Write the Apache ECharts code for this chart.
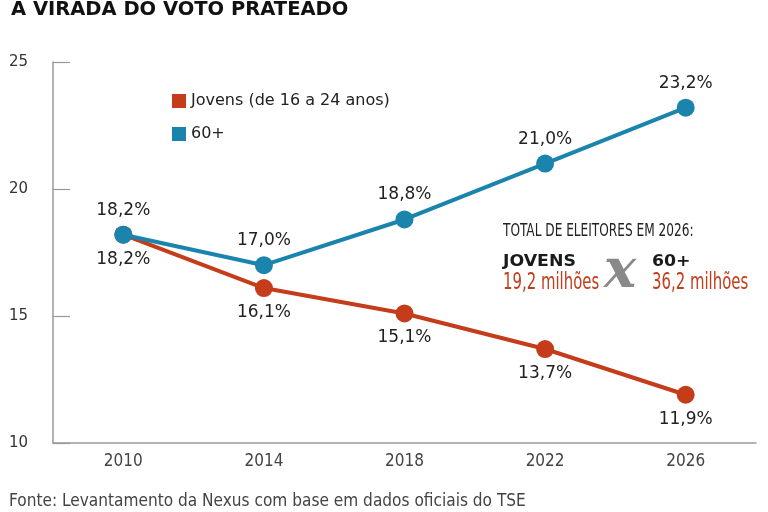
<!DOCTYPE html>
<html>
<head>
<meta charset="utf-8">
<script src="https://cdn.jsdelivr.net/npm/echarts@6/dist/echarts.min.js"></script>
<style>
  html, body { margin: 0; padding: 0; background: #fff; }
  #container { width: 768px; height: 512px; }
</style>
</head>
<body>
<div id="container"></div>
<script>
var years = ['2010', '2014', '2018', '2022', '2026'];
var jovens = [18.2, 16.1, 15.1, 13.7, 11.9];
var sessenta = [18.2, 17.0, 18.8, 21.0, 23.2];
var yTicks = [10, 15, 20, 25];

var RED = '#C43C1A';
var BLUE = '#1B84AD';
var narrow = '"Liberation Sans Narrow", "DejaVu Sans Condensed", sans-serif';

var dom = document.getElementById('container');
var myChart = echarts.init(dom);

function pct(p) {
    return p.value.toFixed(1).replace('.', ',') + '%';
}

// squeezed text block for the annotation (no narrow font installed)
function txt(x, y, sx, text, font, fill) {
    return {
        type: 'text', x: x, y: y, scaleX: sx,
        style: { text: text, font: font, fill: fill, verticalAlign: 'top' }
    };
}

var option = {
    animation: false,
    backgroundColor: '#fff',
    title: {
        text: 'A VIRADA DO VOTO PRATEADO',
        left: 6,
        top: -5,
        textStyle: {
            fontFamily: 'DejaVu Sans',
            fontWeight: 'bold',
            fontSize: 19.5,
            color: '#111'
        }
    },
    legend: {
        orient: 'vertical',
        left: 167,
        top: 88,
        itemWidth: 14,
        itemHeight: 14,
        itemGap: 17,
        icon: 'rect',
        textStyle: { fontFamily: 'DejaVu Sans', fontSize: 16, color: '#222' },
        data: ['Jovens (de 16 a 24 anos)', '60+']
    },
    grid: { left: 53, right: 12, top: 62, bottom: 69 },
    xAxis: {
        type: 'category',
        data: years,
        boundaryGap: true,
        axisLine: { lineStyle: { color: '#999', width: 1.5 } },
        axisTick: { inside: true, length: 12, lineStyle: { color: '#999', width: 1.2 } },
        axisLabel: { margin: 10, fontFamily: narrow, fontSize: 17, color: '#444' }
    },
    yAxis: {
        type: 'value',
        min: yTicks[0],
        max: yTicks[yTicks.length - 1],
        interval: 5,
        splitLine: { show: false },
        axisLine: { show: true, lineStyle: { color: '#999', width: 1.5 } },
        axisTick: { show: true, inside: true, length: 17, lineStyle: { color: '#999', width: 1.2 } },
        axisLabel: { margin: 25, fontFamily: 'DejaVu Sans', fontSize: 15, color: '#333' }
    },
    graphic: [
        txt(503, 222, 0.73, 'TOTAL DE ELEITORES EM 2026:', '18.5px ' + narrow, '#222'),
        txt(503, 253, 1.05, 'JOVENS', 'bold 16.5px "DejaVu Sans"', '#1a1a1a'),
        txt(503, 272, 0.72, '19,2 milhões', '23px ' + narrow, RED),
        txt(604, 246, 1.0, 'x', 'italic bold 54px "DejaVu Serif"', '#8a8a8a'),
        txt(652, 253, 1.05, '60+', 'bold 16.5px "DejaVu Sans"', '#1a1a1a'),
        txt(652, 272, 0.72, '36,2 milhões', '23px ' + narrow, RED),
        txt(9, 492, 0.95, 'Fonte: Levantamento da Nexus com base em dados oficiais do TSE', '18px ' + narrow, '#444')
    ],
    series: [
        {
            name: 'Jovens (de 16 a 24 anos)',
            type: 'line',
            data: jovens,
            color: RED,
            symbol: 'circle',
            symbolSize: 18,
            lineStyle: { width: 4, color: RED },
            itemStyle: { color: RED },
            label: {
                show: true, position: 'bottom', distance: 7,
                formatter: pct, fontFamily: 'DejaVu Sans', fontSize: 17, color: '#222'
            },
            z: 2
        },
        {
            name: '60+',
            type: 'line',
            data: sessenta,
            color: BLUE,
            symbol: 'circle',
            symbolSize: 18,
            lineStyle: { width: 4, color: BLUE },
            itemStyle: { color: BLUE },
            label: {
                show: true, position: 'top', distance: 7,
                formatter: pct, fontFamily: 'DejaVu Sans', fontSize: 17, color: '#222'
            },
            z: 3
        }
    ]
};

myChart.setOption(option);
</script>
</body>
</html>
